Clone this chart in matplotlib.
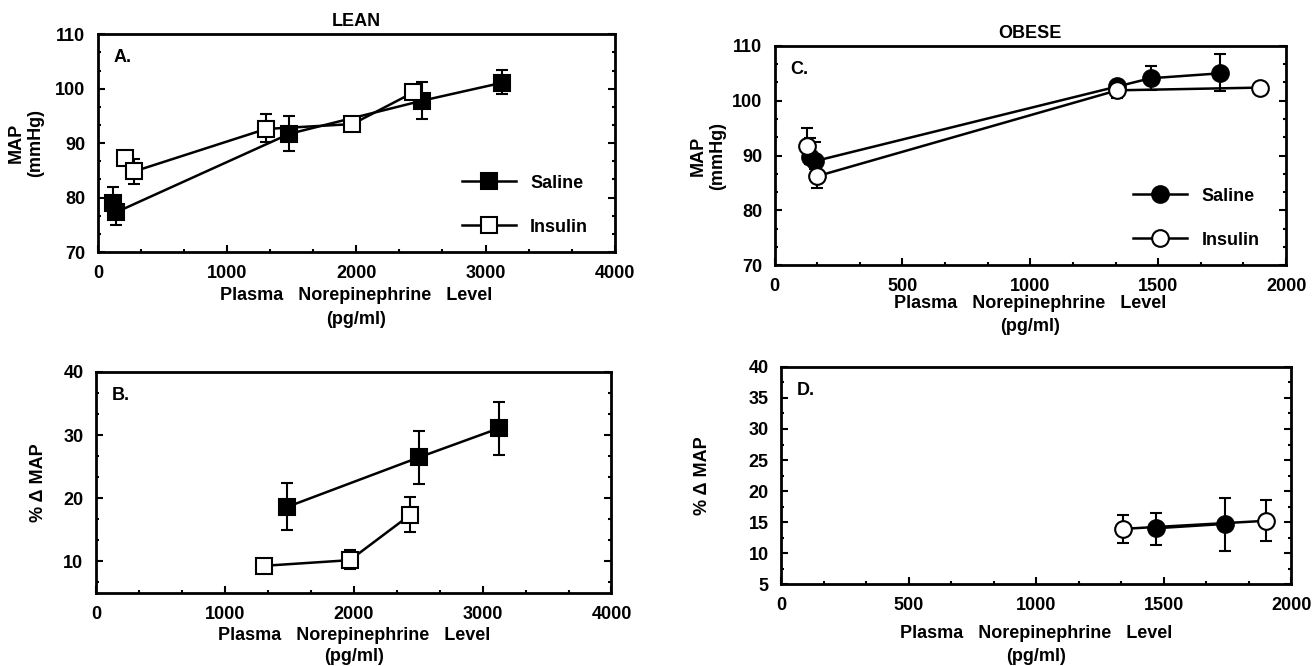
import numpy as np
import matplotlib
matplotlib.use("Agg")
import matplotlib.pyplot as plt
from matplotlib.ticker import MultipleLocator

plt.rcParams['font.family'] = ['Liberation Sans', 'DejaVu Sans']
plt.rcParams['font.weight'] = 'bold'

# Panel A - lean, MAP
a_sal_x = [120, 140, 1480, 2510, 3130]
a_sal_y = [79.0, 77.3, 91.7, 97.8, 101.1]
a_sal_lo = [79.0, 75.0, 88.5, 94.5, 99.0]
a_sal_hi = [82.0, 77.3, 95.0, 101.2, 103.5]
a_ins_x = [210, 280, 1300, 1970, 2440]
a_ins_y = [87.3, 84.8, 92.6, 93.5, 99.3]
a_ins_lo = [87.3, 82.5, 90.2, 92.8, 98.5]
a_ins_hi = [87.3, 87.0, 95.3, 94.2, 100.2]

# Panel B - lean, % change MAP
b_sal_x = [1480, 2510, 3130]
b_sal_y = [18.6, 26.5, 31.1]
b_sal_lo = [15.0, 22.3, 26.9]
b_sal_hi = [22.4, 30.7, 35.3]
b_ins_x = [1300, 1970, 2440]
b_ins_y = [9.3, 10.2, 17.4]
b_ins_lo = [9.3, 8.8, 14.6]
b_ins_hi = [9.3, 11.8, 20.2]

# Panel C - obese, MAP
c_sal_x = [140, 160, 1340, 1470, 1740]
c_sal_y = [89.8, 89.0, 102.6, 104.1, 105.0]
c_sal_lo = [88.5, 87.5, 102.0, 102.0, 101.8]
c_sal_hi = [93.2, 92.5, 103.4, 106.3, 108.5]
c_ins_x = [125, 165, 1340, 1900]
c_ins_y = [91.8, 86.2, 101.9, 102.4]
c_ins_lo = [91.8, 84.0, 100.5, 102.4]
c_ins_hi = [95.0, 86.2, 103.3, 102.4]

# Panel D - obese, % change MAP
d_sal_x = [1470, 1740]
d_sal_y = [14.0, 14.7]
d_sal_lo = [11.3, 10.4]
d_sal_hi = [16.4, 18.8]
d_ins_x = [1340, 1900]
d_ins_y = [13.9, 15.2]
d_ins_lo = [11.7, 11.9]
d_ins_hi = [16.1, 18.5]

xlab = "Plasma   Norepinephrine   Level\n(pg/ml)"
FS = 13

fig = plt.figure(figsize=(13.15, 6.66), dpi=100)
axA = fig.add_axes([0.0745, 0.6216, 0.393, 0.327])
axB = fig.add_axes([0.073, 0.1096, 0.392, 0.332])
axC = fig.add_axes([0.589, 0.602, 0.389, 0.329])
axD = fig.add_axes([0.594, 0.123, 0.388, 0.326])


def series(ax, x, y, lo, hi, marker, face, label=None):
    x = np.array(x); y = np.array(y)
    err = [y - np.array(lo), np.array(hi) - y]
    ax.errorbar(x, y, yerr=err, fmt='none', ecolor='black', elinewidth=1.5,
                capsize=4, capthick=1.5, zorder=2)
    ax.plot(x, y, '-', color='black', lw=1.8, marker=marker, ms=12,
            mfc=face, mec='black', mew=1.5, label=label, zorder=3)


def style(ax, xmax, xmaj, ylo, yhi, ymaj, letter):
    ax.set_xlim(0, xmax)
    ax.set_ylim(ylo, yhi)
    ax.xaxis.set_major_locator(MultipleLocator(xmaj))
    ax.xaxis.set_minor_locator(MultipleLocator(xmaj / 3))
    ax.yaxis.set_major_locator(MultipleLocator(ymaj))
    ax.yaxis.set_minor_locator(MultipleLocator(ymaj / 3))
    ax.tick_params(which='both', direction='in', right=True, width=1.5,
                   labelsize=FS, pad=9)
    ax.tick_params(which='major', length=5)
    ax.tick_params(which='minor', length=2.5)
    for s in ax.spines.values():
        s.set_linewidth(2)
    for t in ax.get_xticklabels() + ax.get_yticklabels():
        t.set_fontweight('bold')
    ax.text(0.03, 0.93, letter, transform=ax.transAxes, fontsize=FS,
            fontweight='bold', va='top')


series(axA, a_sal_x, a_sal_y, a_sal_lo, a_sal_hi, 's', 'black', 'Saline')
series(axA, a_ins_x, a_ins_y, a_ins_lo, a_ins_hi, 's', 'white', 'Insulin')
style(axA, 4000, 1000, 70, 110, 10, 'A.')
axA.set_title('LEAN', fontsize=FS, fontweight='bold', pad=6)
axA.set_ylabel('MAP\n(mmHg)', fontsize=FS, fontweight='bold', labelpad=8)
axA.set_xlabel(xlab, fontsize=FS, fontweight='bold', labelpad=4,
               linespacing=1.5)
axA.legend(loc='lower right', frameon=False, handlelength=3,
           labelspacing=1.5, bbox_to_anchor=(0.98, 0.0),
           prop={'weight': 'bold', 'size': FS})

series(axB, b_sal_x, b_sal_y, b_sal_lo, b_sal_hi, 's', 'black')
series(axB, b_ins_x, b_ins_y, b_ins_lo, b_ins_hi, 's', 'white')
style(axB, 4000, 1000, 5, 40, 10, 'B.')
axB.set_yticks([10, 20, 30, 40])
axB.set_ylabel('% \u0394 MAP', fontsize=FS, fontweight='bold', labelpad=12)
axB.set_xlabel(xlab, fontsize=FS, fontweight='bold', labelpad=3,
               linespacing=1.3)

series(axC, c_sal_x, c_sal_y, c_sal_lo, c_sal_hi, 'o', 'black', 'Saline')
series(axC, c_ins_x, c_ins_y, c_ins_lo, c_ins_hi, 'o', 'white', 'Insulin')
style(axC, 2000, 500, 70, 110, 10, 'C.')
axC.set_title('OBESE', fontsize=FS, fontweight='bold', pad=6)
axC.set_ylabel('MAP\n(mmHg)', fontsize=FS, fontweight='bold', labelpad=4)
axC.set_xlabel(xlab, fontsize=FS, fontweight='bold', labelpad=0,
               linespacing=1.5)
axC.legend(loc='lower right', frameon=False, handlelength=3,
           labelspacing=1.5, bbox_to_anchor=(0.98, 0.0),
           prop={'weight': 'bold', 'size': FS})

series(axD, d_sal_x, d_sal_y, d_sal_lo, d_sal_hi, 'o', 'black')
series(axD, d_ins_x, d_ins_y, d_ins_lo, d_ins_hi, 'o', 'white')
style(axD, 2000, 500, 5, 40, 5, 'D.')
axD.yaxis.set_minor_locator(MultipleLocator(2.5))
axD.set_ylabel('% \u0394 MAP', fontsize=FS, fontweight='bold', labelpad=27)
axD.set_xlabel(xlab, fontsize=FS, fontweight='bold', labelpad=8,
               linespacing=1.5)

fig.savefig('out.png', dpi=100)
